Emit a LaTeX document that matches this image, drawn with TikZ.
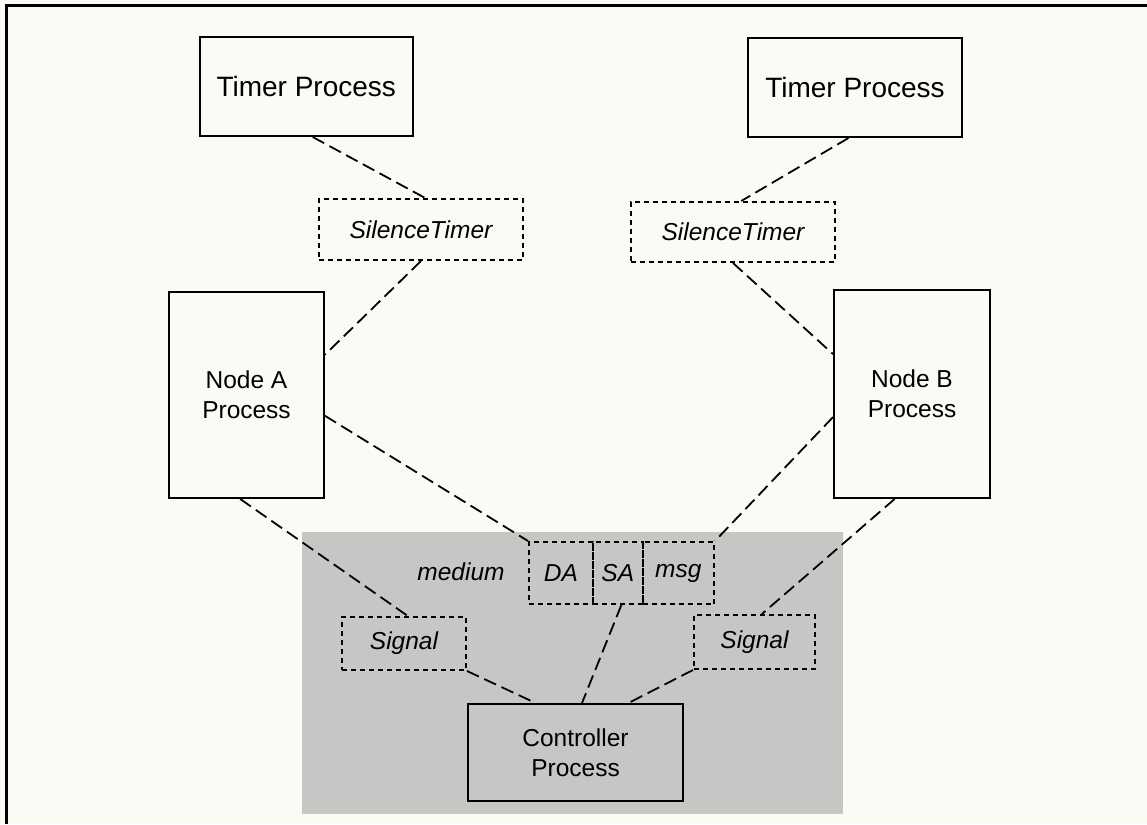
\documentclass[tikz,border=0pt]{standalone}
\usepackage{fontspec}
\setmainfont{Liberation Sans}
\usetikzlibrary{calc}
\definecolor{paper}{RGB}{251,251,246}
\definecolor{medshade}{RGB}{198,198,197}
\tikzset{
  procbox/.style={draw, line width=2pt, inner sep=0pt, align=center,
    font=\fontsize{24.5}{30}\selectfont},
  timerbox/.style={procbox, font=\fontsize{28}{32}\selectfont},
  fieldbox/.style={draw, line width=2pt, dash pattern=on 5pt off 4pt, inner sep=0pt,
    font=\fontsize{24.5}{30}\selectfont\itshape},
  link/.style={line width=1.8pt, dash pattern=on 13pt off 6pt},
  plainlabel/.style={inner sep=0pt, font=\fontsize{24.5}{30}\selectfont\itshape}
}
\begin{document}
\begin{tikzpicture}[x=1pt, y=-1pt]
  % page and outer frame
  \fill[paper] (0,0) rectangle (1147,824);
  \useasboundingbox (0,0) rectangle (1147,824);
  \draw[line width=3pt] (6.5,824) -- (6.5,6) -- (1147,6);

  % shared medium (shaded region)
  \fill[medshade] (302,532) rectangle (843,814);
  \node[plainlabel] (medium) at (461,572) {medium};

  % timer processes
  \node[timerbox, minimum width=213.5pt, minimum height=99pt] (tA) at (306.25,86.5) {Timer Process};
  \node[timerbox, minimum width=214pt, minimum height=99pt] (tB) at (855,87.5) {Timer Process};

  % silence timer signals
  \node[fieldbox, minimum width=204pt, minimum height=61pt] (sA) at (421,229.5) {SilenceTimer};
  \node[fieldbox, minimum width=204pt, minimum height=60pt] (sB) at (733,232) {SilenceTimer};

  % node processes
  \node[procbox, minimum width=155pt, minimum height=206pt] (nA) at (246.5,395) {Node A\\Process};
  \node[procbox, minimum width=156pt, minimum height=208pt] (nB) at (912,394) {Node B\\Process};

  % frame fields on the medium
  \node[fieldbox, minimum width=64pt, minimum height=62pt] (da) at (561,573) {DA};
  \node[fieldbox, minimum width=49.5pt, minimum height=62pt] (sa) at (617.75,573) {SA};
  \node[fieldbox, minimum width=71.5pt, minimum height=62pt] (msg) at (678.25,573) {msg};

  % signal boxes
  \node[fieldbox, minimum width=124pt, minimum height=53pt] (sigA) at (404,643.5) {Signal};
  \node[fieldbox, minimum width=121pt, minimum height=54pt] (sigB) at (754.5,642) {Signal};

  % controller
  \node[procbox, minimum width=215pt, minimum height=97pt] (ctl) at (575.5,752.5) {Controller\\Process};

  % connections
  \draw[link] ($(tA.south west)!0.53!(tA.south east)$) -- ($(sA.north west)!0.52!(sA.north east)$);
  \draw[link] ($(sA.south west)!0.50!(sA.south east)$) -- ($(nA.north east)!0.306!(nA.south east)$);
  \draw[link] ($(tB.south west)!0.47!(tB.south east)$) -- ($(sB.north west)!0.54!(sB.north east)$);
  \draw[link] ($(sB.south west)!0.50!(sB.south east)$) -- ($(nB.north west)!0.31!(nB.south west)$);

  \draw[link] ($(nA.north east)!0.60!(nA.south east)$) -- (da.north west);
  \draw[link] ($(nB.north west)!0.61!(nB.south west)$) -- (msg.north east);
  \draw[link] ($(nA.south west)!0.46!(nA.south east)$) -- ($(sigA.north west)!0.53!(sigA.north east)$);
  \draw[link] ($(nB.south west)!0.39!(nB.south east)$) -- ($(sigB.north west)!0.56!(sigB.north east)$);

  \draw[link] (sigA.south east) -- ($(ctl.north west)!0.316!(ctl.north east)$);
  \draw[link] ($(sa.south west)!0.57!(sa.south east)$) -- ($(ctl.north west)!0.53!(ctl.north east)$);
  \draw[link] (sigB.south west) -- ($(ctl.north west)!0.744!(ctl.north east)$);
\end{tikzpicture}
\end{document}
